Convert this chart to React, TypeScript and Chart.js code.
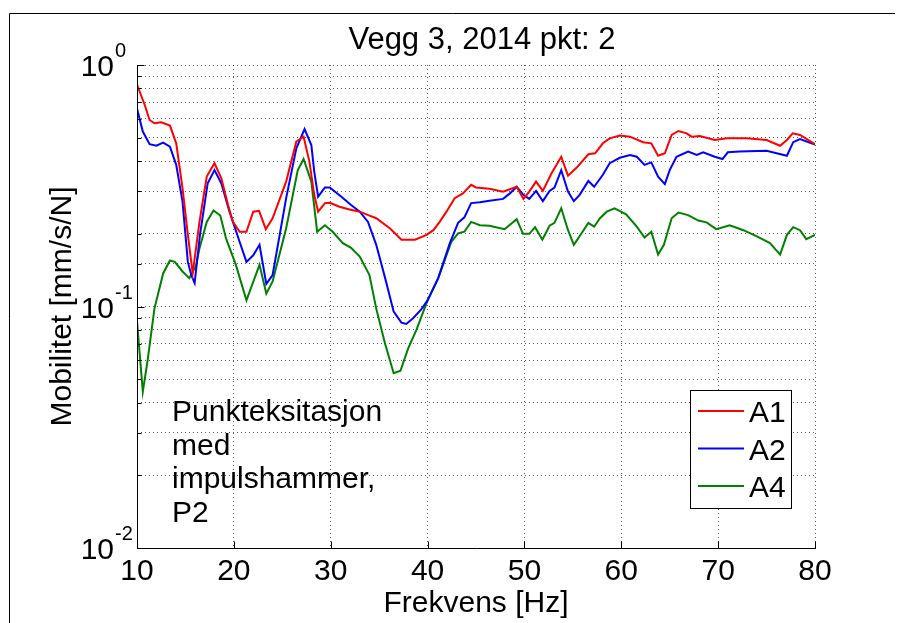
import React, { useEffect, useRef } from "react";
import { Chart, registerables } from "chart.js";

Chart.register(...registerables);

const chartTitle = "Vegg 3, 2014 pkt: 2";
const xTitle = "Frekvens [Hz]";
const yTitle = "Mobilitet [mm/s/N]";
const noteLines = ["Punkteksitasjon", "med", "impulshammer,", "P2"];
const seriesLabels = ["A1", "A2", "A4"];
const seriesColors = ["#ff0000", "#0000ff", "#008000"];
const xTicks = [10, 20, 30, 40, 50, 60, 70, 80];
const yMajorTicks = [1, 0.1, 0.01];
const yExponents = ["0", "-1", "-2"];

const a1Freq = [10.0, 10.8, 11.3, 11.8, 12.5, 13.4, 14.05, 14.7, 15.25, 15.75, 16.45, 17.2, 18.0, 18.7, 19.4, 19.9, 20.6, 21.3, 22.0, 22.6, 23.3, 24.0, 25.4, 26.45, 27.2, 27.8, 28.3, 28.7, 29.4, 29.9, 30.9, 31.95, 33.0, 34.0, 34.7, 36.1, 37.3, 38.7, 39.9, 40.6, 41.25, 41.95, 42.8, 43.65, 44.5, 45.0, 46.4, 47.8, 49.2, 49.9, 50.5, 51.2, 51.9, 52.8, 53.8, 54.5, 55.4, 56.6, 57.3, 58.1, 58.8, 59.85, 60.9, 62.25, 63.1, 63.8, 64.5, 65.2, 65.9, 66.75, 67.25, 68.1, 69.65, 70.9, 72.9, 75.0, 76.4, 77.1, 77.7, 78.45, 80.0];
const a1Vals = [0.83, 0.683, 0.592, 0.574, 0.579, 0.561, 0.474, 0.309, 0.198, 0.137, 0.224, 0.345, 0.392, 0.34, 0.263, 0.224, 0.204, 0.204, 0.247, 0.249, 0.209, 0.232, 0.329, 0.482, 0.505, 0.398, 0.29, 0.247, 0.268, 0.269, 0.259, 0.252, 0.247, 0.238, 0.232, 0.211, 0.189, 0.189, 0.198, 0.207, 0.224, 0.247, 0.281, 0.294, 0.319, 0.311, 0.307, 0.299, 0.313, 0.279, 0.299, 0.329, 0.301, 0.356, 0.417, 0.348, 0.376, 0.427, 0.431, 0.474, 0.497, 0.51, 0.505, 0.479, 0.474, 0.421, 0.431, 0.513, 0.533, 0.521, 0.505, 0.508, 0.489, 0.497, 0.497, 0.489, 0.463, 0.489, 0.521, 0.513, 0.47];

const a2Freq = [10.0, 10.6, 11.3, 12.0, 12.7, 13.4, 14.05, 14.7, 15.25, 15.6, 15.95, 16.5, 17.3, 18.0, 18.7, 19.55, 20.6, 21.3, 22.0, 22.65, 23.35, 24.0, 25.4, 26.45, 27.3, 28.0, 28.3, 28.7, 29.4, 29.9, 31.1, 32.1, 33.0, 33.85, 34.7, 35.6, 36.5, 37.3, 37.8, 38.5, 39.35, 40.0, 41.1, 42.3, 43.15, 43.8, 44.5, 45.4, 46.4, 47.8, 48.5, 49.2, 49.85, 50.5, 51.2, 51.9, 52.6, 53.1, 53.8, 54.5, 55.1, 55.7, 56.6, 57.2, 58.1, 58.8, 59.85, 60.9, 61.6, 62.4, 63.1, 63.8, 64.5, 65.0, 65.7, 66.9, 67.8, 68.45, 69.65, 70.45, 71.0, 72.2, 75.0, 77.1, 77.75, 78.45, 80.0];
const a2Vals = [0.66, 0.53, 0.47, 0.463, 0.477, 0.459, 0.386, 0.272, 0.153, 0.135, 0.125, 0.198, 0.324, 0.367, 0.324, 0.247, 0.185, 0.153, 0.163, 0.18, 0.124, 0.135, 0.281, 0.452, 0.543, 0.466, 0.362, 0.285, 0.311, 0.311, 0.285, 0.263, 0.247, 0.224, 0.18, 0.132, 0.0952, 0.0857, 0.0847, 0.0894, 0.0973, 0.106, 0.131, 0.183, 0.222, 0.234, 0.268, 0.27, 0.274, 0.279, 0.294, 0.313, 0.291, 0.279, 0.301, 0.273, 0.301, 0.311, 0.367, 0.299, 0.273, 0.29, 0.331, 0.313, 0.351, 0.392, 0.413, 0.424, 0.417, 0.386, 0.395, 0.345, 0.321, 0.367, 0.417, 0.438, 0.424, 0.435, 0.417, 0.408, 0.435, 0.438, 0.441, 0.421, 0.479, 0.493, 0.468];

const a4Freq = [10.0, 10.6, 11.1, 11.8, 12.7, 13.4, 13.9, 14.75, 15.4, 16.1, 16.45, 17.2, 17.9, 18.6, 19.2, 20.2, 21.3, 22.65, 23.35, 24.0, 25.4, 26.6, 27.2, 28.0, 28.6, 29.4, 30.2, 31.25, 32.1, 33.0, 34.0, 34.7, 35.6, 36.5, 37.2, 38.0, 38.85, 40.0, 41.1, 42.45, 43.15, 43.8, 44.5, 45.4, 46.4, 47.95, 49.2, 49.85, 50.5, 51.1, 51.85, 52.6, 53.1, 53.8, 54.5, 55.1, 55.9, 56.6, 57.2, 57.8, 58.5, 59.3, 60.5, 61.6, 62.4, 63.1, 63.8, 64.4, 65.2, 65.9, 66.9, 67.95, 68.8, 69.8, 71.2, 72.6, 74.0, 75.35, 76.4, 77.1, 77.75, 78.45, 79.1, 80.0];
const a4Vals = [0.087, 0.0444, 0.06, 0.098, 0.137, 0.155, 0.153, 0.139, 0.131, 0.148, 0.174, 0.224, 0.25, 0.238, 0.191, 0.149, 0.106, 0.149, 0.113, 0.127, 0.211, 0.367, 0.408, 0.329, 0.204, 0.217, 0.204, 0.183, 0.175, 0.161, 0.135, 0.098, 0.0704, 0.0529, 0.0542, 0.0671, 0.08, 0.106, 0.131, 0.185, 0.201, 0.204, 0.224, 0.217, 0.216, 0.209, 0.23, 0.2, 0.2, 0.213, 0.189, 0.216, 0.222, 0.255, 0.207, 0.18, 0.201, 0.222, 0.214, 0.232, 0.247, 0.255, 0.241, 0.214, 0.193, 0.204, 0.164, 0.18, 0.232, 0.245, 0.239, 0.227, 0.223, 0.209, 0.217, 0.207, 0.195, 0.183, 0.164, 0.198, 0.213, 0.207, 0.19, 0.198];

const FONT = '"Liberation Sans", Arial, Helvetica, sans-serif';

const decorPlugin = {
  id: "matlabDecor",
  afterDraw(chart: any) {
    const ctx = chart.ctx as CanvasRenderingContext2D;
    const { left, right, top, bottom } = chart.chartArea;
    const xs = chart.scales.x;
    const ys = chart.scales.y;
    ctx.save();
    ctx.strokeStyle = "#000";
    ctx.lineWidth = 1;
    ctx.setLineDash([]);
    // axes lines (box off)
    const L = Math.round(left) + 0.5;
    const B = Math.round(bottom) + 0.5;
    ctx.beginPath();
    ctx.moveTo(L, Math.round(top));
    ctx.lineTo(L, B);
    ctx.lineTo(Math.round(right) + 1, B);
    ctx.stroke();
    // ticks on y (inward)
    ys.ticks.forEach((t: any) => {
      const py = Math.round(ys.getPixelForValue(t.value)) + 0.5;
      const len = t.major ? 7 : 4;
      ctx.beginPath();
      ctx.moveTo(L, py);
      ctx.lineTo(L + len, py);
      ctx.stroke();
    });
    xs.ticks.forEach((t: any) => {
      const px = Math.round(xs.getPixelForValue(t.value)) + 0.5;
      ctx.beginPath();
      ctx.moveTo(px, B);
      ctx.lineTo(px, B - 7);
      ctx.stroke();
    });
    ctx.fillStyle = "#000";
    // x tick labels
    ctx.font = `30px ${FONT}`;
    ctx.textAlign = "center";
    ctx.textBaseline = "alphabetic";
    xTicks.forEach((v) => {
      ctx.fillText(String(v), xs.getPixelForValue(v), 580);
    });
    // y tick labels with superscript
    yMajorTicks.forEach((v, i) => {
      const py = ys.getPixelForValue(v);
      ctx.font = `30px ${FONT}`;
      ctx.textAlign = "right";
      ctx.fillText("10", 114, py + 11);
      ctx.font = `20px ${FONT}`;
      ctx.textAlign = "left";
      ctx.fillText(yExponents[i], 115, py - 8);
    });
    // titles
    ctx.font = `31px ${FONT}`;
    ctx.textAlign = "center";
    ctx.fillText(chartTitle, (left + right) / 2 + 6, 49);
    ctx.font = `30px ${FONT}`;
    ctx.fillText(xTitle, (left + right) / 2, 612);
    ctx.save();
    ctx.translate(71, (top + bottom) / 2);
    ctx.rotate(-Math.PI / 2);
    ctx.fillText(yTitle, 0, 0);
    ctx.restore();
    // note text
    ctx.textAlign = "left";
    noteLines.forEach((s, i) => {
      ctx.fillText(s, 172, 421 + i * 33.5);
    });
    // legend
    ctx.fillStyle = "#fff";
    ctx.fillRect(690.5, 390.5, 101, 118);
    ctx.strokeStyle = "#000";
    ctx.strokeRect(690.5, 390.5, 101, 118);
    chart.data.datasets.forEach((ds: any, i: number) => {
      const ly = 411 + i * 37.5;
      ctx.strokeStyle = ds.borderColor;
      ctx.lineWidth = 2;
      ctx.beginPath();
      ctx.moveTo(698, ly);
      ctx.lineTo(744, ly);
      ctx.stroke();
      ctx.fillStyle = "#000";
      ctx.font = `30px ${FONT}`;
      ctx.fillText(ds.label, 749, ly + 11);
    });
    // outer figure frame
    ctx.strokeStyle = "#000";
    ctx.lineWidth = 1;
    ctx.beginPath();
    ctx.moveTo(9.5, 623);
    ctx.lineTo(9.5, 13.5);
    ctx.lineTo(895, 13.5);
    ctx.stroke();
    ctx.restore();
  },
};

export default function App() {
  const ref = useRef<HTMLCanvasElement | null>(null);
  useEffect(() => {
    if (!ref.current) return;
    const mk = (f: number[], v: number[]) => f.map((x, i) => ({ x, y: v[i] }));
    const series = [mk(a1Freq, a1Vals), mk(a2Freq, a2Vals), mk(a4Freq, a4Vals)];
    const gridOpts = { color: "rgba(0,0,0,0.65)", lineWidth: 1, drawTicks: false };
    const chart = new Chart(ref.current, {
      type: "line",
      data: {
        datasets: series.map((d, i) => ({
          label: seriesLabels[i],
          data: d,
          borderColor: seriesColors[i],
          backgroundColor: seriesColors[i],
          borderWidth: 2,
          pointRadius: 0,
          tension: 0,
          fill: false,
        })),
      },
      options: {
        responsive: false,
        animation: false,
        layout: { padding: { left: 137, top: 65, right: 84, bottom: 75 } },
        plugins: {
          legend: { display: false },
          title: { display: false },
          tooltip: { enabled: false },
        },
        scales: {
          x: {
            type: "linear",
            min: 10,
            max: 80,
            ticks: { display: false, stepSize: 10, autoSkip: false },
            grid: gridOpts,
            border: { display: false, dash: [1, 3] },
          },
          y: {
            type: "logarithmic",
            min: 0.01,
            max: 1,
            ticks: { display: false, autoSkip: false },
            grid: gridOpts,
            border: { display: false, dash: [1, 3] },
          },
        },
      } as any,
      plugins: [decorPlugin],
    });
    return () => chart.destroy();
  }, []);
  return (
    <div style={{ position: "fixed", left: 0, top: 0, width: 899, height: 623, background: "#fff" }}>
      <canvas ref={ref} width={899} height={623} style={{ display: "block" }} />
    </div>
  );
}
